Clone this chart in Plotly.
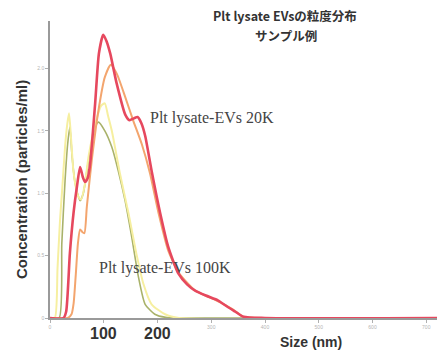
import plotly.graph_objects as go

# ---- data (size in nm, concentration in arbitrary units) ----
red_x = [0, 25, 30, 37, 44, 50, 56, 61, 65, 70, 74.5, 84, 91, 99, 105, 112, 124, 140, 148, 156, 163, 170, 177, 189, 205, 220, 239, 255, 270, 290, 313, 330, 345, 360, 400, 720]
red_y = [0, 0, 0.05, 0.52, 0.85, 1.05, 1.21, 1.13, 1.09, 1.12, 1.23, 1.72, 2.12, 2.27, 2.22, 2.12, 1.88, 1.63, 1.585, 1.60, 1.61, 1.56, 1.46, 1.18, 0.84, 0.57, 0.355, 0.27, 0.22, 0.18, 0.14, 0.09, 0.05, 0.01, 0, 0]

orange_x = [0, 33, 40, 44, 48, 52, 56, 60, 64, 68.5, 77.6, 90, 102, 113, 124, 140, 155, 171, 186, 202, 220, 240, 270, 310, 340, 360, 400, 720]
orange_y = [0, 0, 0.03, 0.12, 0.35, 0.60, 0.71, 0.69, 0.68, 0.89, 1.26, 1.66, 1.93, 2.03, 1.96, 1.77, 1.58, 1.39, 1.16, 0.84, 0.54, 0.36, 0.22, 0.14, 0.07, 0.01, 0, 0]

yellow_x = [0, 9, 14, 18.6, 23, 28, 32, 35.4, 39, 43.5, 48, 53, 58, 64, 72, 84, 95, 102, 108, 115, 130, 146, 161, 174, 189, 214, 240, 720]
yellow_y = [0, 0, 0.40, 0.78, 1.05, 1.37, 1.55, 1.64, 1.45, 1.18, 1.05, 0.97, 0.95, 1.05, 1.30, 1.55, 1.70, 1.72, 1.62, 1.50, 1.16, 0.84, 0.51, 0.27, 0.11, 0.03, 0, 0]

olive_x = [0, 17, 22, 28, 33, 37, 41, 46, 51, 56, 62, 71.5, 84, 90, 102, 115, 127, 139.7, 152, 164.5, 177, 195, 215, 240, 720]
olive_y = [0, 0, 0.60, 1.10, 1.40, 1.53, 1.30, 1.10, 1.00, 0.94, 1.00, 1.26, 1.53, 1.57, 1.50, 1.37, 1.18, 0.94, 0.65, 0.33, 0.11, 0.03, 0.005, 0, 0]

x_ticks = [0, 100, 200, 300, 400, 500, 600, 700]
x_tick_labels = ["0", "", "", "300", "400", "500", "600", "700"]   # 100 / 200 shown as large labels
x_big_labels = [100, 200]
y_ticks = [0, 0.5, 1.0, 1.5, 2.0]
y_tick_labels = ["0", "0.5", "1.0", "1.5", "2.0"]

series = [
    (olive_x, olive_y, "#a9b26a", 1.6),
    (yellow_x, yellow_y, "#f6efa0", 2.0),
    (orange_x, orange_y, "#f3a56e", 2.0),
    (red_x, red_y, "#e6485e", 2.6),
]

fig = go.Figure()
for xs, ys, col, w in series:
    fig.add_trace(go.Scatter(x=xs, y=ys, mode="lines",
                             line=dict(color=col, width=w, shape="spline", smoothing=0.6),
                             showlegend=False, hoverinfo="skip"))

fig.update_layout(
    width=437, height=351,
    margin=dict(l=50, r=0, t=21, b=33),
    paper_bgcolor="white", plot_bgcolor="white",
    xaxis=dict(range=[0, 720], showgrid=False, zeroline=False,
               showline=True, linecolor="#9a9a9a", linewidth=1.5,
               tickmode="array", tickvals=x_ticks, ticktext=x_tick_labels,
               ticks="outside", ticklen=3, tickcolor="#b0b0b0",
               tickfont=dict(size=5, color="#b5b5b5", family="Liberation Sans")),
    yaxis=dict(range=[0, 2.38], showgrid=False, zeroline=False,
               showline=True, linecolor="#9a9a9a", linewidth=1.5,
               tickmode="array", tickvals=y_ticks, ticktext=y_tick_labels,
               ticks="outside", ticklen=3, tickcolor="#b0b0b0",
               tickfont=dict(size=5, color="#b5b5b5", family="Liberation Sans")),
)

def px(xp):
    return (xp - 50) / 387

def py(yp):
    return (318 - yp) / 297

anns = [
    dict(text="<b>Plt lysate EVsの粒度分布</b>", x=285, y=16, size=12.5, family="Noto Sans CJK JP", color="#333333"),
    dict(text="<b>サンプル例</b>", x=286, y=35, size=12.5, family="Noto Sans CJK JP", color="#333333"),
    dict(text="Plt lysate-EVs 20K", x=211.5, y=118, size=16, family="Liberation Serif", color="#444444"),
    dict(text="Plt lysate-EVs 100K", x=165, y=268, size=16, family="Liberation Serif", color="#444444"),
    dict(text="<b>Size (nm)</b>", x=311, y=342, size=14, family="Liberation Sans", color="#333333"),
]
for a in anns:
    fig.add_annotation(text=a["text"], xref="paper", yref="paper",
                       x=px(a["x"]), y=py(a["y"]),
                       xanchor="center", yanchor="middle", showarrow=False,
                       font=dict(size=a["size"], family=a["family"], color=a["color"]))

for v in x_big_labels:
    fig.add_annotation(text="<b>%d</b>" % v, xref="x", yref="paper",
                       x=v, y=py(333), xanchor="center", yanchor="middle", showarrow=False,
                       font=dict(size=16, family="Liberation Sans", color="#333333"))

fig.add_annotation(text="<b>Concentration (particles/ml)</b>", xref="paper", yref="paper",
                   x=px(21), y=py(180), textangle=-90,
                   xanchor="center", yanchor="middle", showarrow=False,
                   font=dict(size=15, family="Liberation Sans", color="#333333"))

fig.write_html("out.html", config={"displayModeBar": False},
               post_script="document.body.style.margin='0';")
